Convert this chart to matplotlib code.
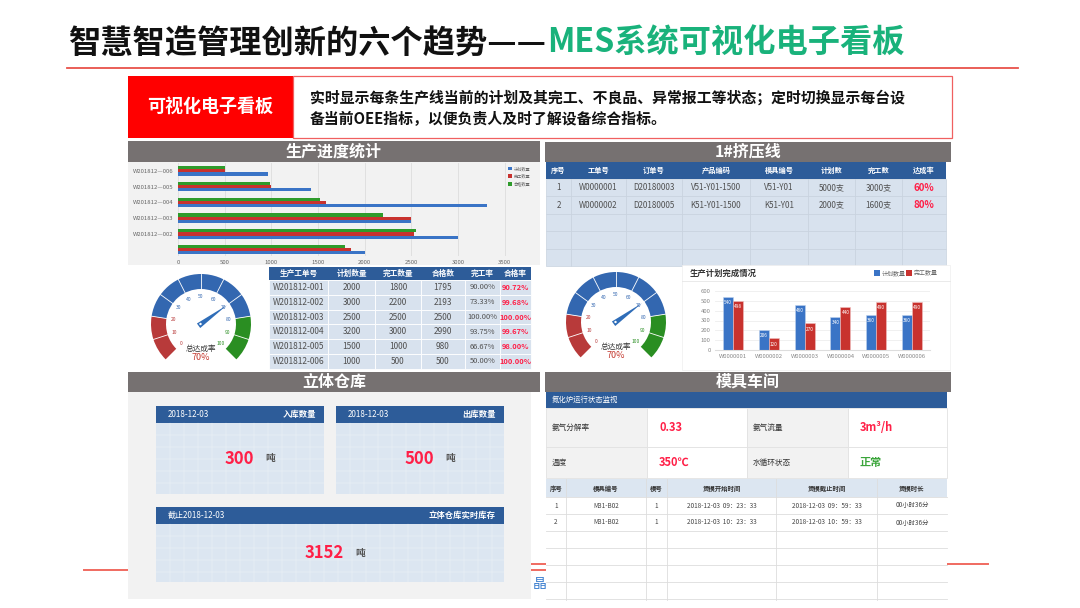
import numpy as np
import matplotlib
matplotlib.use('Agg')
import matplotlib.pyplot as plt
from matplotlib.patches import Rectangle, Wedge, Polygon, Circle

plt.rcParams['font.family'] = ['Noto Sans CJK SC', 'DejaVu Sans']

W, H = 1080, 608

# ---------------- data ----------------
title_black = '智慧智造管理创新的六个趋势——'
title_green = 'MES系统可视化电子看板'
intro_tag = '可视化电子看板'
intro_lines = ['实时显示每条生产线当前的计划及其完工、不良品、异常报工等状态；定时切换显示每台设',
               '备当前OEE指标，以便负责人及时了解设备综合指标。']

progress_title = '生产进度统计'
progress_orders = ['', 'W201812—002', 'W201812—003', 'W201812—004', 'W201812—005', 'W201812—006']
progress_plan = [2000, 3000, 2500, 3310, 1420, 960]
progress_done = [1850, 2530, 2500, 1580, 1000, 500]
progress_pass = [1790, 2550, 2190, 1520, 990, 500]
progress_series = ['计划数量', '完工数量', '合格数量']

gauge_value = 70
gauge_label = '总达成率'
gauge_bands = [(0, 20, '#B83A3A'), (20, 80, '#3367B0'), (80, 100, '#2A8E22')]

order_cols = ['生产工单号', '计划数量', '完工数量', '合格数', '完工率', '合格率']
order_ids = ['W201812-001', 'W201812-002', 'W201812-003', 'W201812-004', 'W201812-005', 'W201812-006']
order_plan = [2000, 3000, 2500, 3200, 1500, 1000]
order_done = [1800, 2200, 2500, 3000, 1000, 500]
order_pass = [1795, 2193, 2500, 2990, 980, 500]
order_done_rate = ['90.00%', '73.33%', '100.00%', '93.75%', '66.67%', '50.00%']
order_pass_rate = ['90.72%', '99.68%', '100.00%', '99.67%', '98.00%', '100.00%']

line_title = '1#挤压线'
line_cols = ['序号', '工单号', '订单号', '产品编码', '模具编号', '计划数', '完工数', '达成率']
line_rows = [['1', 'W0000001', 'D20180003', 'V51-Y01-1500', 'V51-Y01', '5000支', '3000支', '60%'],
             ['2', 'W0000002', 'D20180005', 'K51-Y01-1500', 'K51-Y01', '2000支', '1600支', '80%']]

plan_title = '生产计划完成情况'
plan_series = ['计划数量', '完工数量']
plan_orders = ['W0000001', 'W0000002', 'W0000003', 'W0000004', 'W0000005', 'W0000006']
plan_qty = [540, 206, 460, 340, 360, 360]
plan_done = [498, 120, 270, 440, 490, 490]

wh_title = '立体仓库'
wh_date = '2018-12-03'
wh_in = 300
wh_out = 500
wh_stock = 3152
wh_unit = '吨'

mold_title = '模具车间'
furnace_title = '氮化炉运行状态监视'
furnace_labels = ['氨气分解率', '氨气流量', '温度', '水循环状态']
furnace_values = ['0.33', '3m³/h', '350℃', '正常']
furnace_ok = [False, False, False, True]
mold_cols = ['序号', '模具编号', '模号', '煲模开始时间', '煲模截止时间', '煲模时长']
mold_rows = [['1', 'M31-B02', '1', '2018-12-03  09：23：33', '2018-12-03  09：59：33', '00小时36分'],
             ['2', 'M31-B02', '1', '2018-12-03  10：23：33', '2018-12-03  10：59：33', '00小时36分']]

# ---------------- colours ----------------
GRAY_HEAD = '#767171'
BLUE_HEAD = '#2D5C99'
CELL = '#D8E2EE'
RED_TXT = '#FF1F47'
TXT = '#505050'

fig = plt.figure(figsize=(W / 100, H / 100), dpi=100)
bg = fig.add_axes([0, 0, 1, 1])
bg.set_xlim(0, W)
bg.set_ylim(H, 0)
bg.axis('off')


def px_axes(x0, y0, x1, y1):
    return fig.add_axes([x0 / W, 1 - y1 / H, (x1 - x0) / W, (y1 - y0) / H])


def box(x0, y0, x1, y1, fc, ec='none', lw=0, z=2):
    bg.add_patch(Rectangle((x0, y0), x1 - x0, y1 - y0, fc=fc, ec=ec, lw=lw, zorder=z))


def txt(x, y, s, size, color=TXT, weight='normal', ha='left', va='center', z=6):
    return bg.text(x, y, s, fontsize=size, color=color, fontweight=weight, ha=ha, va=va, zorder=z)


def section(x0, y0, x1, y1, title):
    box(x0, y0, x1, y1, GRAY_HEAD)
    txt((x0 + x1) / 2, (y0 + y1) / 2, title, 11.5, 'white', 'bold', ha='center')


# ---------------- slide title & intro ----------------
t_black = txt(68, 43, title_black, 23.2, '#111111', 'heavy')
fig.canvas.draw()
bb = t_black.get_window_extent()
x_green = bg.transData.inverted().transform((bb.x1, bb.y0))[0]
txt(x_green + 1, 43, title_green, 23.2, '#19B27B', 'heavy')
bg.plot([67, 1018], [68, 68], color='#E8524A', lw=1.3, zorder=3)

box(128, 76, 293, 138, '#FF0000', z=3)
box(293, 76, 952, 138, 'white', ec='#F06060', lw=0.9, z=3)
txt(210, 107, intro_tag, 13, 'white', 'bold', ha='center')
txt(310, 98, intro_lines[0], 10.7, '#111111', 'bold')
txt(310, 119, intro_lines[1], 10.7, '#111111', 'bold')

# decorative slide lines partly hidden behind the panels
bg.plot([84, 546], [570, 570], color='#F06A60', lw=1.4, zorder=1)
bg.plot([531, 988], [564, 564], color='#F06A60', lw=1.4, zorder=1)
bg.text(533, 584, '晶', fontsize=10, color='#3C7FCF', va='center', zorder=1)

# ---------------- production progress ----------------
section(128, 141, 540, 162, progress_title)
box(128, 162, 540, 265, '#F2F2F2')

axb = px_axes(178, 163, 531, 256)
yy = np.arange(len(progress_orders))
h = 0.2
b1 = axb.barh(yy - h, progress_plan, h, color='#3A74C6')
b2 = axb.barh(yy, progress_done, h, color='#C8322E')
b3 = axb.barh(yy + h, progress_pass, h, color='#2E9B2B')
axb.set_facecolor('#F2F2F2')
axb.set_xlim(0, 3780)
axb.set_ylim(-0.4, 5.5)
axb.set_xticks(range(0, 3501, 500))
axb.set_yticks(yy)
axb.set_yticklabels(progress_orders)
axb.tick_params(length=0, labelsize=4.3, labelcolor='#666666', pad=3)
axb.grid(axis='x', color='#DDDDDD', lw=0.6)
axb.set_axisbelow(True)
for s in axb.spines.values():
    s.set_visible(False)
axb.legend([b1, b2, b3], progress_series, loc='upper left', bbox_to_anchor=(0.925, 1.0),
           fontsize=3.0, handlelength=0.9, handleheight=0.9, handletextpad=0.4,
           labelspacing=0.7, frameon=False, labelcolor='#666666')


# ---------------- gauges ----------------
def gauge(cx, cy):
    axg = px_axes(cx - 56, cy - 56, cx + 56, cy + 56)
    axg.set_xlim(-56, 56)
    axg.set_ylim(-56, 56)
    axg.axis('off')

    def ang(v):
        return 225 - 2.7 * v

    for a, b, c in gauge_bands:
        axg.add_patch(Wedge((0, 0), 50, ang(b), ang(a), width=15, fc=c, ec='none'))
    for v in range(10, 100, 10):
        t = np.radians(ang(v))
        axg.plot([35 * np.cos(t), 50 * np.cos(t)], [35 * np.sin(t), 50 * np.sin(t)],
                 color='white', lw=0.6)
    for v in range(0, 101, 10):
        t = np.radians(ang(v))
        c = next(col for a, b, col in gauge_bands if a <= v <= b)
        axg.text(28 * np.cos(t), 28 * np.sin(t), str(v), fontsize=3.6, color=c,
                 ha='center', va='center')
    t = np.radians(ang(gauge_value))
    n = np.array([-np.sin(t), np.cos(t)])
    d = np.array([np.cos(t), np.sin(t)])
    tip = 32 * d
    back = -3 * d
    axg.add_patch(Polygon([tip, back + 2.8 * n, back - 2.8 * n], fc='#2F6DB8', ec='none'))
    axg.add_patch(Circle((-0.5, 0), 1.2, fc='white', ec='none', zorder=5))
    axg.text(0, -25, gauge_label, fontsize=5.5, color='#333333', ha='center', va='center')
    axg.text(0, -33, f'{gauge_value}%', fontsize=6.5, color='#C4392F', ha='center', va='center')


gauge(201, 324)
gauge(616, 322)

# ---------------- order table ----------------
ox = [269, 328, 375, 421, 465, 500, 531]
box(ox[0], 267, ox[-1], 280, BLUE_HEAD)
for j, c in enumerate(order_cols):
    txt((ox[j] + ox[j + 1]) / 2, 273.5, c, 5.5, 'white', 'bold', ha='center')
rh = 14.8
for i in range(len(order_ids)):
    y0 = 280 + i * rh
    vals = [order_ids[i], str(order_plan[i]), str(order_done[i]), str(order_pass[i]),
            order_done_rate[i], order_pass_rate[i]]
    for j, v in enumerate(vals):
        box(ox[j], y0, ox[j + 1], y0 + rh, CELL, ec='white', lw=0.6)
        last = j == len(vals) - 1
        txt((ox[j] + ox[j + 1]) / 2, y0 + rh / 2, v, 5.4 if j >= 4 else 6,
            RED_TXT if last else TXT, 'bold' if last else 'normal', ha='center')

# ---------------- extrusion line table ----------------
section(545, 142, 951, 162, line_title)
lx = [546, 571, 626, 682, 750, 808, 855, 902, 946]
box(lx[0], 162, lx[-1], 179, BLUE_HEAD)
for j, c in enumerate(line_cols):
    txt((lx[j] + lx[j + 1]) / 2, 170.5, c, 5.2, 'white', 'bold', ha='center')
for i in range(5):
    y0 = 179 + i * 17.4
    for j in range(len(line_cols)):
        box(lx[j], y0, lx[j + 1], y0 + 17.4, CELL, ec='#C8D2DE', lw=0.5)
        if i < len(line_rows):
            v = line_rows[i][j]
            last = j == len(line_cols) - 1
            txt((lx[j] + lx[j + 1]) / 2, y0 + 8.7, v, 7 if last else 5.8,
                RED_TXT if last else TXT, 'bold' if last else 'normal', ha='center')

# ---------------- plan completion chart ----------------
box(682, 265, 950, 370, 'white', ec='#EEEEEE', lw=0.5)
txt(690, 273, plan_title, 6, '#333333', 'bold')
bg.plot([682, 950], [281, 281], color='#E6E6E6', lw=0.6, zorder=3)
box(874, 270, 880, 276, '#3A74C6', z=4)
txt(882, 273, plan_series[0], 4.3, '#666666')
box(906, 270, 912, 276, '#C8322E', z=4)
txt(914, 273, plan_series[1], 4.3, '#666666')

axp = px_axes(715, 291, 930, 350)
xx = np.arange(len(plan_orders))
bw = 0.28
p1 = axp.bar(xx - bw / 2, plan_qty, bw, color='#3A74C6', ec='#BFD3EE', lw=0.4)
p2 = axp.bar(xx + bw / 2, plan_done, bw, color='#C8322E', ec='#F0C0C0', lw=0.4)
axp.bar_label(p1, padding=-6, fontsize=3.4, color='white')
axp.bar_label(p2, padding=-6, fontsize=3.4, color='white')
axp.set_xlim(-0.5, 5.5)
axp.set_ylim(0, 600)
axp.set_yticks(range(0, 601, 100))
axp.set_xticks(xx)
axp.set_xticklabels(plan_orders)
axp.tick_params(length=0, labelsize=4.3, labelcolor='#888888', pad=3)
axp.grid(axis='y', color='#EEEEEE', lw=0.6)
axp.set_axisbelow(True)
for s in axp.spines.values():
    s.set_visible(False)
axp.spines['bottom'].set_visible(True)
axp.spines['bottom'].set_color('#DDDDDD')
axp.set_facecolor('none')

# ---------------- warehouse ----------------
section(128, 372, 540, 392, wh_title)
box(128, 392, 531, 599, '#F2F2F2')


def card(x0, y0, x1, hy, y1, left, right, value):
    box(x0, y0, x1, hy, BLUE_HEAD, z=3)
    box(x0, hy, x1, y1, '#DCE6F1', z=3)
    for gx in np.arange(x0 + 14, x1, 14):
        bg.plot([gx, gx], [hy, y1], color='white', lw=0.3, alpha=0.6, zorder=3)
    for gy in np.arange(hy + 12, y1, 12):
        bg.plot([x0, x1], [gy, gy], color='white', lw=0.3, alpha=0.6, zorder=3)
    txt(x0 + 12, (y0 + hy) / 2, left, 5.8, 'white')
    txt(x1 - 8, (y0 + hy) / 2, right, 6, 'white', 'bold', ha='right')
    cx = (x0 + x1) / 2
    cy = (hy + y1) / 2
    txt(cx + 14, cy, str(value), 12, RED_TXT, 'bold', ha='right')
    txt(cx + 25, cy, wh_unit, 7, '#555555', 'bold')


card(156, 406, 324, 423, 494, wh_date, '入库数量', wh_in)
card(336, 406, 504, 423, 494, wh_date, '出库数量', wh_out)
card(156, 507, 504, 524, 582, '截止' + wh_date, '立体仓库实时库存', wh_stock)

# ---------------- mold workshop ----------------
section(545, 372, 951, 392, mold_title)
box(546, 392, 947, 408, BLUE_HEAD)
txt(552, 400, furnace_title, 5.3, 'white')
fx = [546, 647, 747, 848, 947]
fy = [408, 447, 478]
for k in range(4):
    r, c = divmod(k, 2)
    xa, xb, xc = fx[2 * c], fx[2 * c + 1], fx[2 * c + 2]
    ya, yb = fy[r], fy[r + 1]
    box(xa, ya, xb, yb, '#F2F2F2', ec='#E2E2E2', lw=0.6)
    box(xb, ya, xc, yb, 'white', ec='#E2E2E2', lw=0.6)
    txt(xa + 6, (ya + yb) / 2, furnace_labels[k], 5.5, '#333333')
    txt(xb + 12, (ya + yb) / 2, furnace_values[k], 8, '#3BA53B' if furnace_ok[k] else RED_TXT, 'bold')

mx = [546, 566, 646, 667, 776, 877, 947]
box(mx[0], 479, mx[-1], 497, '#DCE6F1')
box(mx[0], 497, mx[-1], 600, 'white')
for j, c in enumerate(mold_cols):
    txt((mx[j] + mx[j + 1]) / 2, 488, c, 4.6, '#333333', 'bold', ha='center')
for x in mx[1:-1]:
    bg.plot([x, x], [479, 600], color='#DDDDDD', lw=0.6, zorder=4)
for k in range(7):
    y = 497 + k * 17
    bg.plot([mx[0], mx[-1]], [y, y], color='#DDDDDD', lw=0.6, zorder=4)
for i, row in enumerate(mold_rows):
    y0 = 497 + i * 17
    for j, v in enumerate(row):
        txt((mx[j] + mx[j + 1]) / 2, y0 + 8.5, v, 4.6, '#444444', ha='center')

fig.savefig('out.png', dpi=100)
